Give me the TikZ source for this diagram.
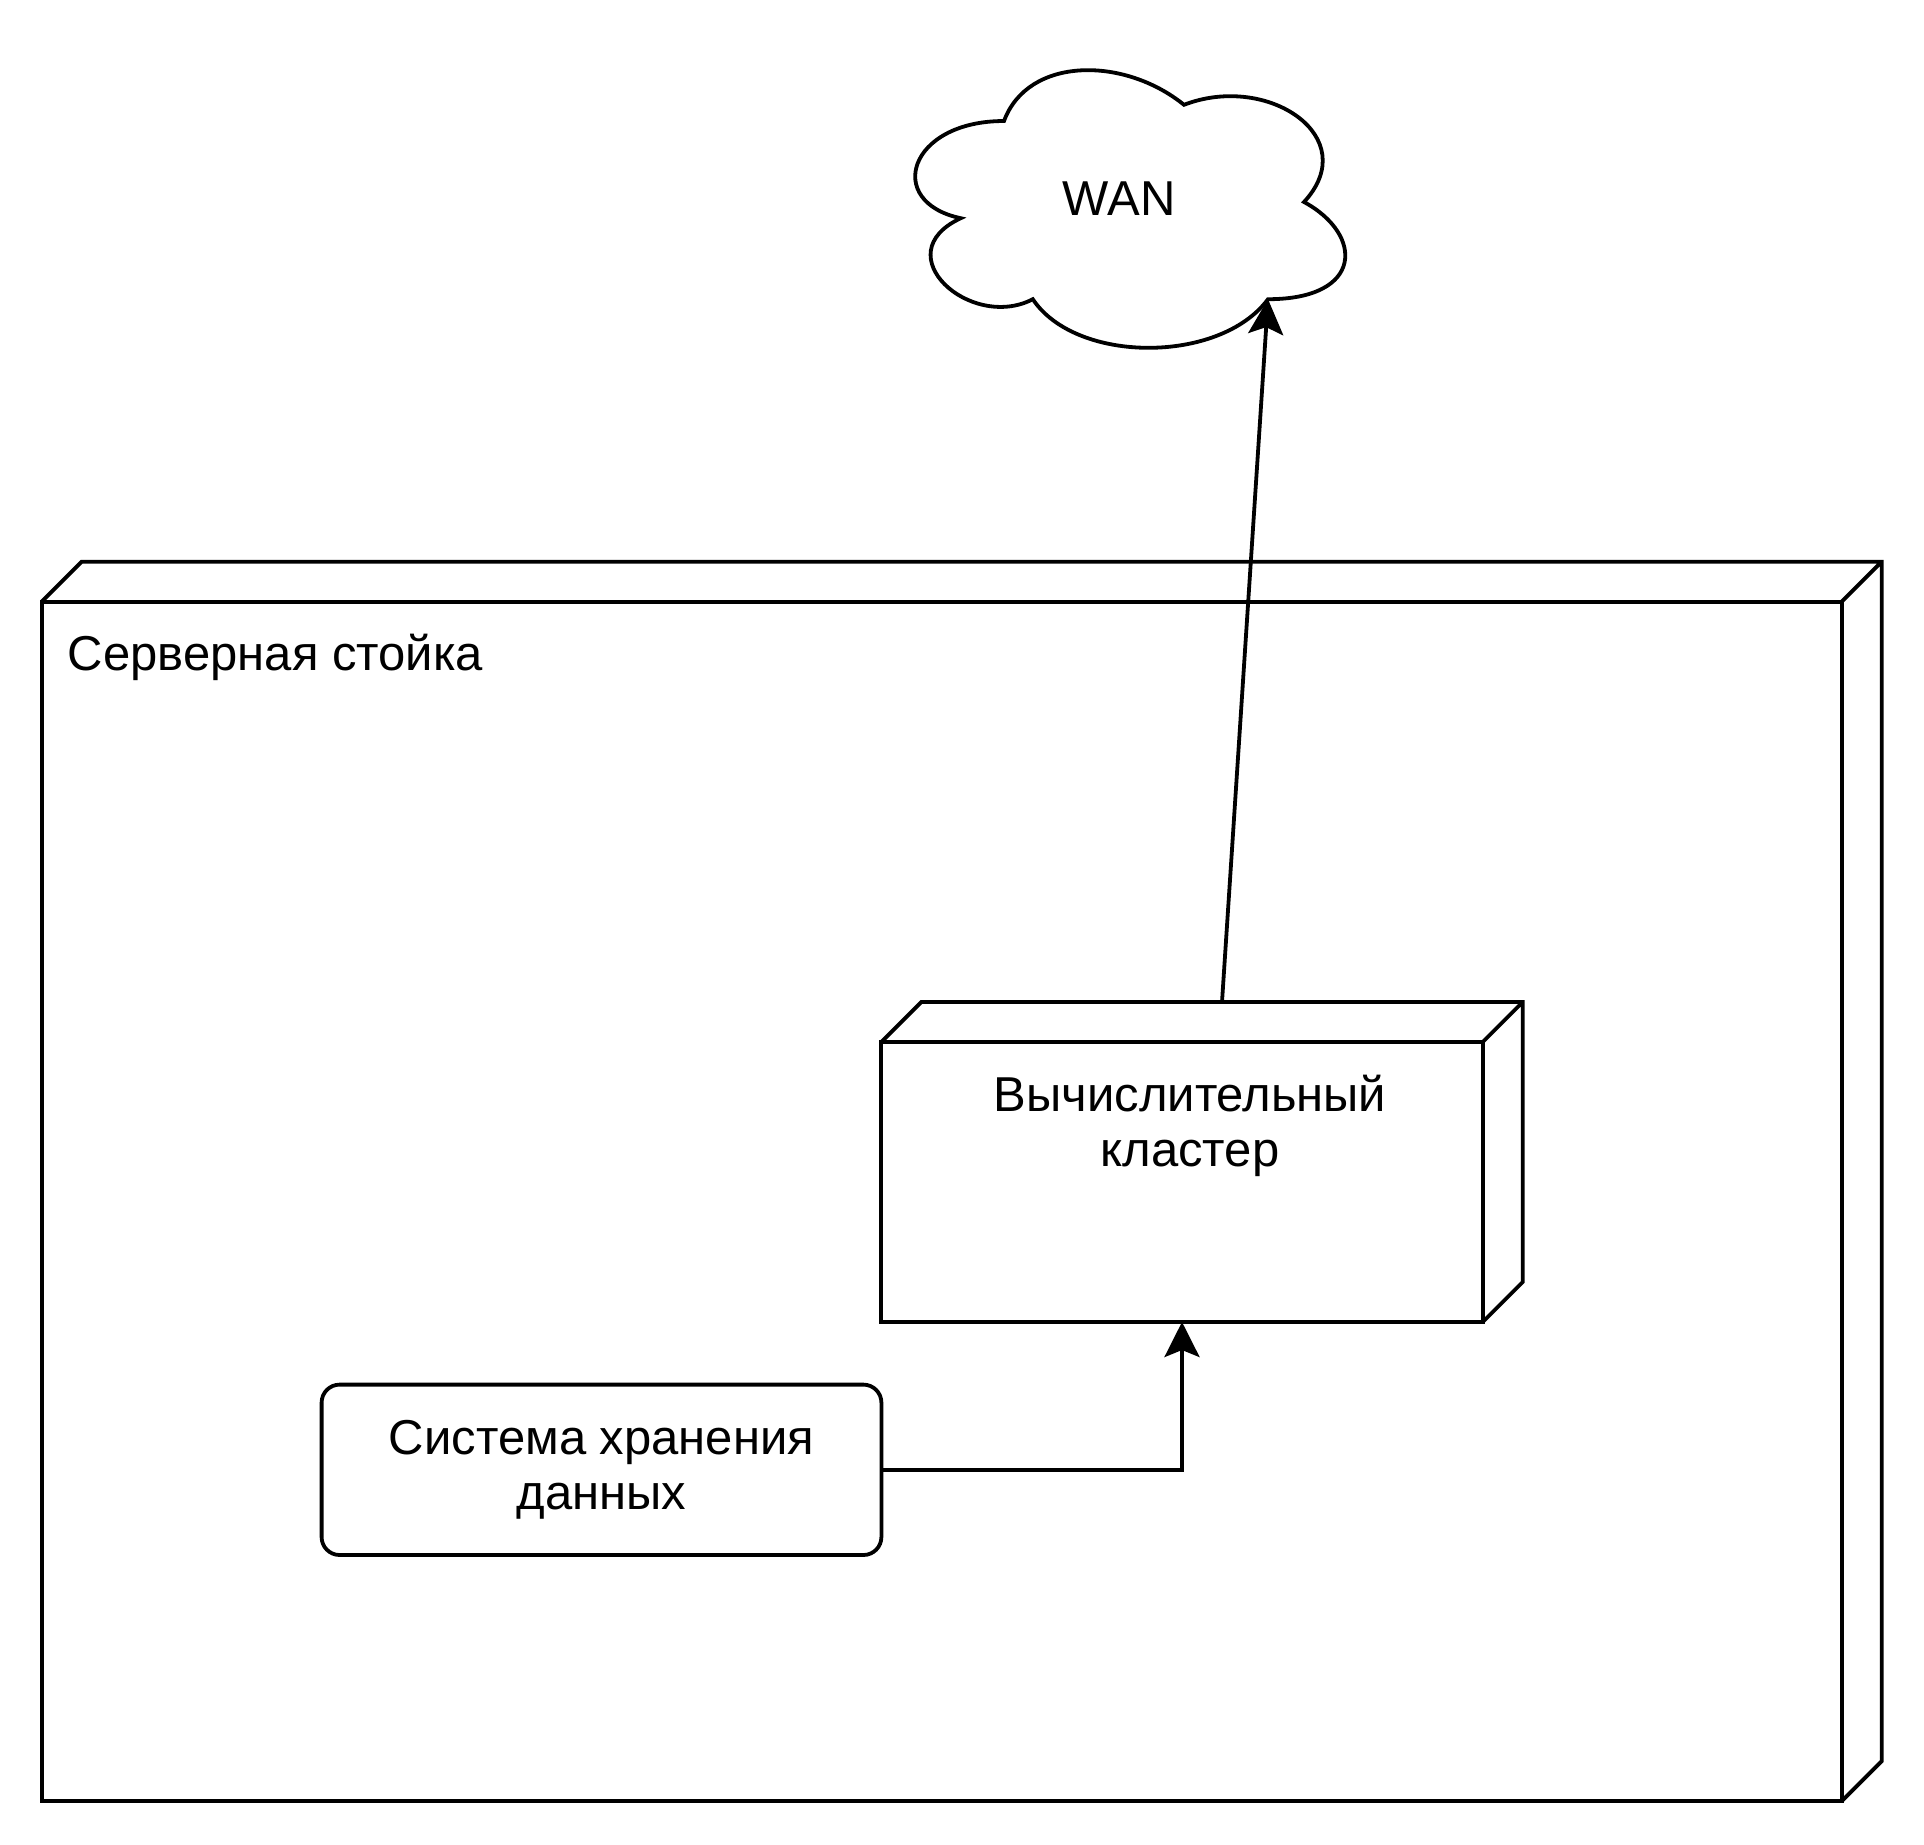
\documentclass[tikz,border=0pt]{standalone}
\usepackage{fontspec}
\setmainfont{Liberation Sans}
\usetikzlibrary{positioning,arrows.meta}
\tikzset{
  frame/.style={draw, line width=1.9pt, inner sep=0pt, outer sep=0pt},
  txt/.style={inner sep=0pt, align=center, font=\fontsize{24.5}{27.5}\selectfont},
  conn/.style={line width=1.9pt, -{Stealth[length=17.5pt,width=17.5pt,inset=3.5pt]}},
}
\newcommand{\nodeback}[1]{%
  \draw[line width=1.9pt]
      (#1.north west) -- ++(20pt,20pt)
                      -- ([shift={(20pt,20pt)}]#1.north east)
                      -- ([shift={(20pt,20pt)}]#1.south east)
                      -- (#1.south east)
      (#1.north east) -- ++(20pt,20pt);}
\begin{document}
\begin{tikzpicture}[x=0.5pt,y=-0.5pt]
  \useasboundingbox (0,0) rectangle (1924,1844);
  \begin{scope}
  \node[frame, minimum width=900pt, minimum height=599.7pt, anchor=north west] (rack) at (41.7,601.7) {};
  \nodeback{rack}
  \node[txt, anchor=base west] (racklabel) at (67.5,670) {Серверная стойка};
  \end{scope}
  \begin{scope}
  \node[frame, minimum width=300.7pt, minimum height=140pt, anchor=north west] (cluster) at (881.3,1042) {};
  \nodeback{cluster}
  \node[txt, below=16.5pt of cluster.north, xshift=4pt] (clusterlabel) {Вычислительный\\кластер};
  \coordinate (clustertop) at ([shift={(20pt,20pt)}]cluster.north);
  \node[frame, rounded corners=9pt, minimum width=279.9pt, minimum height=85.2pt, anchor=north west] (storage) at (321.6,1384.6) {};
  \node[txt] (storagelabel) at (storage) {Система хранения\\данных};
  \end{scope}
  \begin{scope}[shift={(442pt,-20pt)}, x=240pt, y=-162pt]
  \draw[line width=1.9pt]
      (0.25,0.25) .. controls (0.05,0.25) and (0,0.5) .. (0.16,0.55)
                  .. controls (0,0.66) and (0.18,0.9) .. (0.31,0.8)
                  .. controls (0.4,1) and (0.7,1) .. (0.8,0.8)
                  .. controls (1,0.8) and (1,0.6) .. (0.875,0.5)
                  .. controls (1,0.3) and (0.8,0.1) .. (0.625,0.2)
                  .. controls (0.5,0.05) and (0.3,0.05) .. (0.25,0.25) -- cycle;
  \coordinate (wanport) at (0.8,0.8);
  \node[txt] (wan) at (0.49,0.49) {WAN};
  \end{scope}
  \draw[conn] (storage.east) -| (cluster.south);
  \draw[conn] (clustertop) -- (wanport);
\end{tikzpicture}
\end{document}
